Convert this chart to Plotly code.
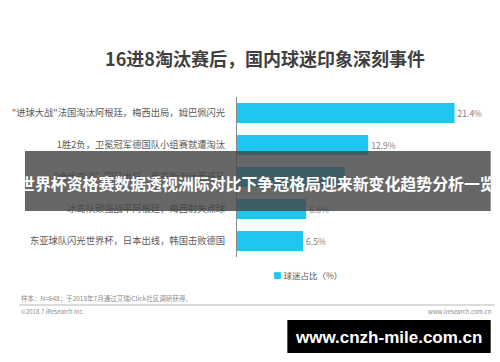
import plotly.graph_objects as go

categories = [
    "\"进球大战\"法国淘汰阿根廷，梅西出局，姆巴佩闪光",
    "1胜2负，卫冕冠军德国队小组赛就遭淘汰",
    "“绝代双骄”同日出局，俄罗斯淘汰西班牙",
    "冰岛队顽强战平阿根廷，梅西射失点球",
    "东亚球队闪光世界杯，日本出线，韩国击败德国",
]
values = [21.4, 12.9, 10.6, 6.8, 6.5]
value_labels = ["21.4%", "12.9%", "", "6.8%", "6.5%"]
series_name = "球迷占比（%）"
title_text = "16进8淘汰赛后，国内球迷印象深刻事件"
overlay_text = "世界杯资格赛数据透视洲际对比下争冠格局迎来新变化趋势分析一览"
note_text = "样本：N=648；于2018年7月通过艾瑞iClick社区调研获得。"
copyright_text = "©2018.7 iResearch Inc."
site_text = "www.iresearch.com.cn"
watermark_text = "www.cnzh-mile.com.cn"

W, H = 500, 362
L, R, T, B = 229, 19, 97, 105
PW, PH = W - L - R, H - T - B
FONT = "Noto Sans CJK SC, Microsoft YaHei, sans-serif"
BAR_COLOR = "#1EC6F0"


def px(x):
    return (x - L) / PW


def py(y):
    return (H - B - y) / PH


fig = go.Figure()
fig.add_trace(go.Bar(
    y=categories, x=values, orientation="h",
    marker=dict(color=BAR_COLOR, line=dict(width=0)),
    text=value_labels, textposition="outside",
    textfont=dict(size=8.5, color="#7f7f7f", family=FONT),
    cliponaxis=False, name=series_name, showlegend=False,
    width=0.62,
))

shapes = [
    dict(type="rect", xref="paper", yref="paper",
         x0=px(10), x1=px(491), y0=py(211), y1=py(151),
         fillcolor="rgba(70,70,70,0.82)", line=dict(width=0), layer="above"),
    dict(type="line", xref="paper", yref="paper",
         x0=px(4), x1=px(495), y0=py(305), y1=py(305),
         line=dict(color="#cfcfcf", width=1.5)),
    dict(type="rect", xref="paper", yref="paper",
         x0=px(281), x1=px(491), y0=py(353), y1=py(320),
         fillcolor="#000000", line=dict(width=0), layer="above"),
]

annotations = [
    dict(text=overlay_text, xref="paper", yref="paper", x=px(250.5), y=py(183),
         showarrow=False, font=dict(size=15.9, color="white", family=FONT, weight="bold"),
         xanchor="center", yanchor="middle"),
    dict(text=f"<span style='color:{BAR_COLOR}'>■</span> {series_name}",
         xref="paper", yref="paper", x=px(264), y=py(275),
         showarrow=False, font=dict(size=8.5, color="#595959", family=FONT),
         xanchor="left", yanchor="middle"),
    dict(text=note_text, xref="paper", yref="paper", x=px(4), y=py(298),
         showarrow=False, font=dict(size=6.5, color="#8c8c8c", family=FONT),
         xanchor="left", yanchor="middle"),
    dict(text=copyright_text, xref="paper", yref="paper", x=px(4), y=py(311),
         showarrow=False, font=dict(size=6, color="#8c8c8c", family=FONT),
         xanchor="left", yanchor="middle"),
    dict(text=site_text, xref="paper", yref="paper", x=px(494), y=py(311),
         showarrow=False, font=dict(size=6, color="#8c8c8c", family=FONT),
         xanchor="right", yanchor="middle"),
    dict(text=watermark_text, xref="paper", yref="paper", x=px(385), y=py(337),
         showarrow=False, font=dict(size=17, color="white", family="Liberation Sans, Arial, sans-serif", weight="bold"),
         xanchor="center", yanchor="middle"),
]

fig.update_layout(
    width=W, height=H,
    margin=dict(l=L, r=R, t=T, b=B, pad=0),
    paper_bgcolor="white", plot_bgcolor="white",
    title=dict(text=title_text, x=265 / W, y=1 - 60 / H, xanchor="center", yanchor="middle",
               font=dict(size=18, color="#3f3f3f", family=FONT, weight="bold")),
    xaxis=dict(range=[0, 24], visible=False, fixedrange=True),
    yaxis=dict(autorange="reversed", showline=True, linecolor="#8a8a8a", linewidth=1,
               ticks="", ticklabelstandoff=9, showgrid=False,
               tickfont=dict(size=9.3, color="#595959", family=FONT)),
    showlegend=False,
    shapes=shapes, annotations=annotations,
    bargap=0.38,
)

fig.write_html("out.html")
